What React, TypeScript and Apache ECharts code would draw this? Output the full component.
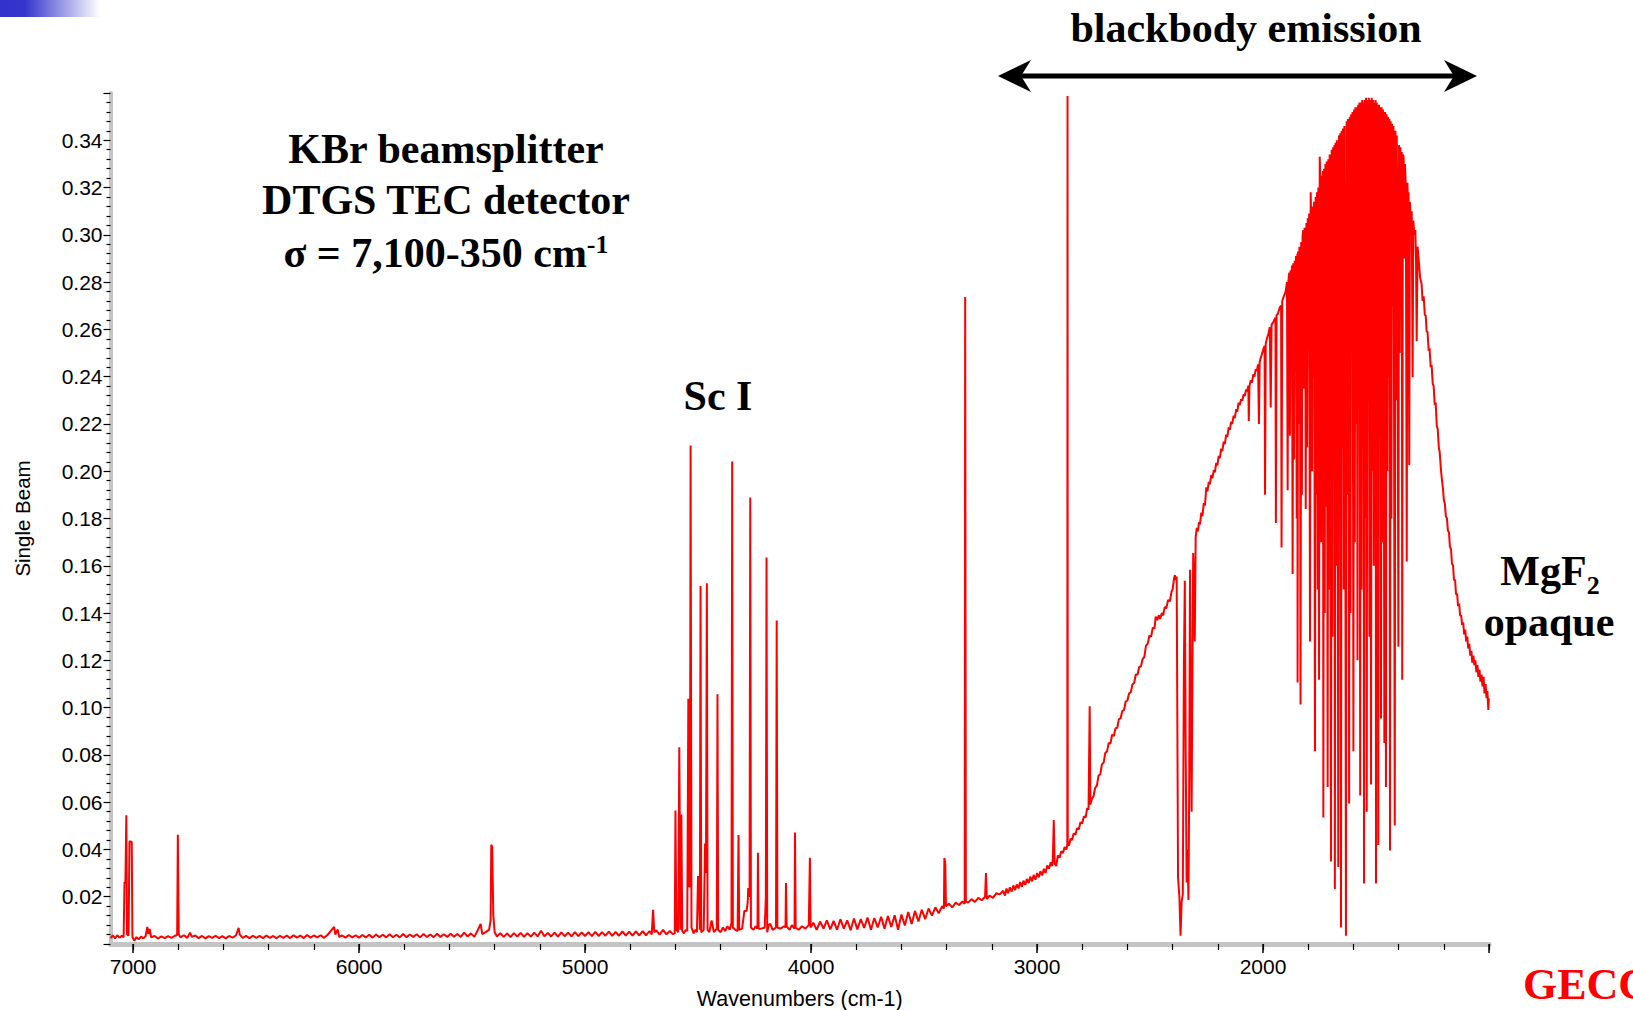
import React, { useEffect, useRef } from "react";
import * as echarts from "echarts";

// ---- axis tick labels ----
const xTickLabels = [7000, 6000, 5000, 4000, 3000, 2000];
const yTickLabels = [0.02, 0.04, 0.06, 0.08, 0.1, 0.12, 0.14, 0.16, 0.18, 0.2, 0.22, 0.24, 0.26, 0.28, 0.3, 0.32, 0.34];
const xMinorTicks = [1000, 1200, 1400, 1600, 1800, 2000, 2200, 2400, 2600, 2800, 3000, 3200, 3400, 3600, 3800, 4000, 4200, 4400, 4600, 4800, 5000, 5200, 5400, 5600, 5800, 6000, 6200, 6400, 6600, 6800, 7000];
const xMajorTicks = [1000, 2000, 3000, 4000, 5000, 6000, 7000];

// ---- spectrum: [wavenumber cm-1, single beam] ----
const baselineWest: [number, number][] = [
  [7100, 0.0025], [7090, 0.0036], [7080, 0.0024], [7070, 0.0037], [7060, 0.0027], [7050, 0.0035], [7042, 0.0028],
  [7038, 0.0262], [7034, 0.0258], [7030, 0.0545], [7027, 0.0042], [7020, 0.0035], [7016, 0.0435], [7006, 0.0432],
  [7003, 0.003], [6995, 0.0014], [6985, 0.0029], [6975, 0.002], [6965, 0.0031], [6955, 0.0024], [6945, 0.0033],
  [6937, 0.0072], [6932, 0.0042], [6927, 0.0064], [6920, 0.0028], [6905, 0.0034], [6890, 0.0023], [6875, 0.0032],
  [6860, 0.0025], [6845, 0.0033], [6830, 0.0026], [6815, 0.0035], [6805, 0.0038], [6802, 0.0462], [6798, 0.004],
  [6790, 0.0028], [6775, 0.0037], [6760, 0.0026], [6748, 0.0048], [6740, 0.003], [6725, 0.0036], [6710, 0.0025],
  [6695, 0.0034], [6680, 0.0024], [6665, 0.0033], [6650, 0.0026], [6635, 0.0035], [6620, 0.0025], [6605, 0.0033],
  [6590, 0.0024], [6575, 0.0034], [6560, 0.0027], [6545, 0.0036], [6533, 0.0068], [6528, 0.004], [6515, 0.0026],
  [6500, 0.0034], [6485, 0.0025], [6470, 0.0035], [6455, 0.0026], [6440, 0.0034], [6425, 0.0025], [6410, 0.0036],
  [6395, 0.0026], [6380, 0.0034], [6365, 0.0024], [6350, 0.0035], [6335, 0.0026], [6320, 0.0036], [6305, 0.0025],
  [6290, 0.0037], [6275, 0.0027], [6260, 0.0036], [6245, 0.0025], [6230, 0.0038], [6215, 0.0027], [6200, 0.0036],
  [6185, 0.0028], [6170, 0.0037], [6155, 0.0026], [6140, 0.0038], [6110, 0.0072], [6105, 0.004], [6095, 0.0062],
  [6088, 0.003], [6075, 0.0036], [6060, 0.0027], [6045, 0.0038], [6030, 0.0028], [6015, 0.0037], [6000, 0.0027],
];

const baselineMid: [number, number][] = [
  [5985, 0.0038], [5970, 0.0028], [5955, 0.0039], [5940, 0.0027], [5925, 0.004], [5910, 0.0029], [5895, 0.0039],
  [5880, 0.0028], [5865, 0.0041], [5850, 0.0029], [5835, 0.0039], [5820, 0.0028], [5805, 0.0042], [5790, 0.0029],
  [5775, 0.004], [5760, 0.003], [5745, 0.0041], [5730, 0.0028], [5715, 0.0042], [5700, 0.003], [5685, 0.004],
  [5670, 0.0029], [5655, 0.0043], [5640, 0.003], [5625, 0.0041], [5610, 0.003], [5595, 0.0043], [5580, 0.0031],
  [5565, 0.0042], [5550, 0.003], [5535, 0.0048], [5520, 0.0032], [5505, 0.0045], [5490, 0.003], [5475, 0.0058],
  [5462, 0.0085], [5455, 0.0042], [5440, 0.005], [5425, 0.006], [5418, 0.01], [5415, 0.042], [5411, 0.041],
  [5406, 0.012], [5400, 0.005], [5390, 0.0032], [5375, 0.0046], [5360, 0.003], [5345, 0.0045], [5330, 0.0029],
  [5315, 0.0046], [5300, 0.0031], [5285, 0.0047], [5270, 0.003], [5255, 0.0046], [5240, 0.0031], [5225, 0.0048],
  [5210, 0.0032], [5195, 0.0056], [5180, 0.0033], [5165, 0.0047], [5150, 0.0032], [5135, 0.0048], [5120, 0.0031],
  [5105, 0.0049], [5090, 0.0033], [5075, 0.0048], [5060, 0.0032], [5045, 0.005], [5030, 0.0033], [5015, 0.0049],
  [5000, 0.0034], [4985, 0.005], [4970, 0.0033], [4955, 0.0051], [4940, 0.0034], [4925, 0.005], [4910, 0.0035],
  [4895, 0.0052], [4880, 0.0034], [4865, 0.0051], [4850, 0.0035], [4835, 0.0053], [4820, 0.0036], [4805, 0.0052],
  [4790, 0.0035], [4775, 0.0053], [4760, 0.0036], [4745, 0.0054], [4730, 0.0037], [4715, 0.0055], [4705, 0.004],
  [4699, 0.0145], [4694, 0.005], [4685, 0.0058], [4670, 0.004], [4655, 0.006], [4640, 0.0041], [4625, 0.0055],
  [4612, 0.0042],
];

const scandiumLines: [number, number][] = [
  [4603, 0.0045], [4600, 0.0565], [4596, 0.006], [4588, 0.005], [4583, 0.0832], [4578, 0.006], [4574, 0.0548],
  [4570, 0.0055], [4562, 0.0045], [4555, 0.006], [4548, 0.0055], [4543, 0.1037], [4540, 0.025], [4536, 0.024],
  [4533, 0.2109], [4529, 0.007], [4520, 0.0045], [4512, 0.006], [4505, 0.005], [4500, 0.0288], [4496, 0.022],
  [4492, 0.006], [4489, 0.1514], [4486, 0.005], [4475, 0.006], [4469, 0.0425], [4465, 0.03], [4461, 0.1526],
  [4458, 0.006], [4450, 0.005], [4440, 0.01], [4430, 0.005], [4417, 0.0065], [4414, 0.1056], [4411, 0.006],
  [4400, 0.005], [4390, 0.007], [4380, 0.0055], [4370, 0.0075], [4360, 0.006], [4352, 0.009], [4349, 0.2041],
  [4346, 0.007], [4335, 0.006], [4325, 0.0055], [4321, 0.0461], [4318, 0.006], [4305, 0.0065], [4295, 0.014],
  [4285, 0.014], [4280, 0.018], [4278, 0.0237], [4272, 0.02], [4269, 0.1889], [4266, 0.007], [4255, 0.006],
  [4245, 0.0075], [4237, 0.0065], [4235, 0.0386], [4232, 0.0065], [4220, 0.0065], [4205, 0.007], [4200, 0.02],
  [4197, 0.1635], [4194, 0.005], [4187, 0.008], [4180, 0.0085], [4170, 0.006], [4155, 0.007], [4152, 0.1369],
  [4149, 0.007], [4135, 0.0065], [4120, 0.0075], [4113, 0.007], [4111, 0.0258], [4108, 0.0075], [4095, 0.006],
  [4085, 0.008], [4073, 0.0065], [4071, 0.0472], [4068, 0.007], [4055, 0.006], [4040, 0.0075], [4025, 0.0065],
  [4010, 0.008], [4005, 0.0365], [4002, 0.007],
];

const nearIr: [number, number][] = [
  [3990, 0.009], [3975, 0.006], [3960, 0.0095], [3945, 0.0065], [3930, 0.01], [3915, 0.0062], [3900, 0.0098],
  [3885, 0.006], [3870, 0.0105], [3855, 0.0065], [3840, 0.01], [3825, 0.0058], [3810, 0.0108], [3795, 0.0062],
  [3780, 0.0105], [3765, 0.0068], [3750, 0.0112], [3735, 0.006], [3720, 0.011], [3705, 0.007], [3690, 0.0115],
  [3675, 0.0065], [3660, 0.0118], [3645, 0.0072], [3630, 0.0122], [3615, 0.006], [3600, 0.0125], [3585, 0.0078],
  [3570, 0.0135], [3555, 0.0085], [3540, 0.014], [3525, 0.0095], [3510, 0.0145], [3495, 0.0105], [3480, 0.015],
  [3465, 0.012], [3450, 0.0155], [3435, 0.013], [3420, 0.016], [3412, 0.015], [3410, 0.0364], [3406, 0.034],
  [3403, 0.016], [3390, 0.017], [3375, 0.0155], [3360, 0.0175], [3345, 0.0165], [3330, 0.018], [3320, 0.017],
  [3318, 0.2737], [3315, 0.018], [3305, 0.0175], [3290, 0.019], [3275, 0.0178], [3260, 0.0195], [3245, 0.0185],
  [3230, 0.02], [3226, 0.03], [3222, 0.019], [3210, 0.0205], [3195, 0.0195], [3180, 0.0215], [3165, 0.021],
];

const risingEdge: [number, number][] = [
  [3150, 0.0225], [3142, 0.0205], [3135, 0.0235], [3128, 0.0215], [3120, 0.024], [3112, 0.0222], [3105, 0.0248],
  [3097, 0.0228], [3090, 0.0252], [3082, 0.0235], [3075, 0.0262], [3067, 0.0242], [3060, 0.0268], [3052, 0.025],
  [3045, 0.0275], [3037, 0.0258], [3030, 0.0285], [3022, 0.0265], [3015, 0.0292], [3007, 0.0272], [3000, 0.03],
  [2992, 0.0282], [2985, 0.0308], [2977, 0.029], [2970, 0.0318], [2962, 0.03], [2955, 0.0332], [2947, 0.0318],
  [2940, 0.0345], [2933, 0.033], [2930, 0.036], [2926, 0.0524], [2922, 0.034], [2915, 0.033], [2908, 0.0375],
  [2900, 0.0365], [2893, 0.0392], [2885, 0.0385], [2878, 0.041], [2870, 0.04], [2866, 0.042], [2865, 0.3587],
  [2864, 0.042], [2858, 0.0418], [2852, 0.0445], [2845, 0.044], [2838, 0.0468], [2830, 0.0462], [2823, 0.049],
  [2815, 0.0485], [2808, 0.0515], [2800, 0.051], [2793, 0.054], [2785, 0.0535], [2778, 0.0575], [2772, 0.0568],
  [2767, 0.1006], [2764, 0.059], [2757, 0.0615], [2750, 0.0625], [2743, 0.066], [2735, 0.067], [2728, 0.0712],
  [2720, 0.0718], [2713, 0.076], [2705, 0.0768], [2698, 0.0808], [2690, 0.0815], [2683, 0.085], [2675, 0.0848],
  [2668, 0.0885], [2660, 0.088], [2653, 0.0912], [2645, 0.0915], [2638, 0.095], [2630, 0.0955], [2623, 0.0985],
  [2615, 0.099], [2608, 0.1025], [2600, 0.103], [2593, 0.106], [2585, 0.1065], [2578, 0.1098], [2570, 0.1105],
  [2563, 0.114], [2555, 0.114], [2548, 0.1172], [2540, 0.1175], [2533, 0.1205], [2525, 0.1215], [2518, 0.1262],
  [2510, 0.127], [2503, 0.1305], [2495, 0.13], [2488, 0.1338], [2480, 0.1335], [2475, 0.1385], [2468, 0.137],
  [2461, 0.139], [2455, 0.1375], [2448, 0.14], [2442, 0.139], [2435, 0.1425], [2428, 0.142], [2420, 0.1455],
  [2412, 0.145], [2405, 0.149], [2400, 0.15], [2394, 0.1545], [2390, 0.156], [2386, 0.154], [2382, 0.1555],
];

const co2Band: [number, number][] = [
  [2376, 0.028], [2370, 0.02], [2365, 0.0035], [2360, 0.018], [2355, 0.021], [2350, 0.12], [2346, 0.1537],
  [2342, 0.08], [2338, 0.026], [2334, 0.04], [2330, 0.0186], [2327, 0.06], [2323, 0.1583], [2319, 0.09],
  [2316, 0.0559], [2312, 0.12], [2309, 0.1654], [2305, 0.15], [2302, 0.128], [2298, 0.172], [2293, 0.176],
  [2288, 0.1745], [2283, 0.1785], [2279, 0.1775], [2273, 0.1825], [2268, 0.181], [2262, 0.1865], [2257, 0.1855],
  [2251, 0.1932], [2246, 0.1915], [2240, 0.1955], [2235, 0.1945], [2229, 0.1985], [2224, 0.197], [2218, 0.2005],
  [2213, 0.1995], [2207, 0.2035], [2202, 0.2025], [2196, 0.2065], [2191, 0.2055], [2185, 0.2095], [2180, 0.2085],
  [2174, 0.2125], [2169, 0.2115], [2163, 0.2155], [2158, 0.2145], [2152, 0.2185], [2147, 0.2175], [2141, 0.221],
  [2136, 0.22], [2130, 0.2235], [2125, 0.2225], [2119, 0.2262], [2114, 0.2252], [2108, 0.229], [2103, 0.228],
  [2097, 0.2305], [2092, 0.2298], [2086, 0.2325], [2081, 0.2318], [2075, 0.2345], [2070, 0.2338], [2065, 0.2362],
  [2063, 0.2212], [2060, 0.236], [2054, 0.2385], [2049, 0.2375], [2043, 0.241], [2038, 0.24], [2032, 0.2432],
  [2027, 0.2425], [2022, 0.2452], [2018, 0.22], [2015, 0.246], [2010, 0.248], [2005, 0.2495], [1999, 0.2515],
  [1993, 0.253], [1991, 0.19], [1988, 0.254], [1980, 0.257], [1975, 0.2585], [1970, 0.261], [1966, 0.227],
  [1962, 0.262], [1955, 0.263], [1950, 0.264], [1945, 0.265], [1943, 0.1781], [1940, 0.266], [1935, 0.2665],
  [1930, 0.268], [1925, 0.2695], [1920, 0.27], [1918, 0.1677], [1915, 0.272], [1908, 0.274], [1900, 0.276],
  [1894, 0.28], [1891, 0.192], [1888, 0.28],
];

const waterBand: [number, number][] = [
  [1884, 0.284], [1881, 0.215], [1878, 0.285], [1875, 0.24], [1872, 0.287], [1869, 0.1565], [1866, 0.288],
  [1863, 0.205], [1860, 0.289], [1857, 0.25], [1854, 0.291], [1851, 0.18], [1848, 0.292], [1847, 0.1106],
  [1845, 0.293], [1842, 0.22], [1839, 0.295], [1836, 0.26], [1834, 0.1013], [1831, 0.297], [1828, 0.19],
  [1825, 0.299], [1822, 0.302], [1819, 0.235], [1816, 0.303], [1813, 0.27], [1811, 0.184], [1808, 0.305],
  [1805, 0.21], [1802, 0.307], [1799, 0.255], [1796, 0.309], [1792, 0.128], [1789, 0.318], [1786, 0.3],
  [1783, 0.2], [1780, 0.312], [1777, 0.24], [1774, 0.314], [1770, 0.0815], [1767, 0.316], [1764, 0.19],
  [1761, 0.318], [1758, 0.15], [1755, 0.32], [1752, 0.1118], [1749, 0.333], [1746, 0.322], [1743, 0.17],
  [1740, 0.325], [1737, 0.21], [1735, 0.327], [1733, 0.0535], [1730, 0.328], [1727, 0.14], [1724, 0.33],
  [1721, 0.185], [1718, 0.331], [1714, 0.0664], [1711, 0.332], [1708, 0.15], [1705, 0.334], [1702, 0.23],
  [1699, 0.0349], [1696, 0.336], [1693, 0.13], [1690, 0.337], [1687, 0.2], [1684, 0.338], [1682, 0.0233],
  [1679, 0.339], [1676, 0.16], [1673, 0.34], [1670, 0.25], [1667, 0.0326], [1664, 0.342], [1661, 0.18],
  [1658, 0.343], [1655, 0.007], [1652, 0.344], [1649, 0.21], [1646, 0.345], [1643, 0.15], [1640, 0.346],
  [1637, 0.26], [1633, 0.0035], [1630, 0.348], [1627, 0.19], [1624, 0.349], [1621, 0.23], [1619, 0.0594],
  [1616, 0.35], [1613, 0.14], [1610, 0.351], [1607, 0.28], [1604, 0.352], [1600, 0.0815], [1597, 0.353],
  [1594, 0.17], [1591, 0.354], [1588, 0.22], [1585, 0.354], [1582, 0.12], [1579, 0.355], [1576, 0.26],
  [1573, 0.356], [1570, 0.0628], [1567, 0.356], [1564, 0.15], [1561, 0.357], [1558, 0.21], [1555, 0.356],
  [1553, 0.0256], [1550, 0.357], [1547, 0.18], [1544, 0.358], [1541, 0.0559], [1538, 0.357], [1535, 0.24],
  [1532, 0.358], [1529, 0.13], [1526, 0.357], [1522, 0.0675], [1519, 0.358], [1516, 0.2], [1513, 0.357],
  [1510, 0.16], [1507, 0.356], [1504, 0.25], [1502, 0.357], [1500, 0.0256], [1497, 0.356], [1494, 0.19],
  [1492, 0.355], [1490, 0.0419], [1487, 0.355], [1484, 0.23], [1481, 0.354], [1478, 0.0954], [1475, 0.354],
  [1472, 0.17], [1469, 0.353], [1466, 0.26], [1463, 0.085], [1460, 0.352], [1456, 0.0664], [1453, 0.351],
  [1450, 0.2], [1447, 0.35], [1444, 0.24], [1441, 0.349], [1438, 0.0396], [1435, 0.348], [1432, 0.18],
  [1429, 0.347], [1426, 0.27], [1423, 0.346], [1420, 0.22], [1417, 0.0501], [1414, 0.344], [1411, 0.23],
  [1408, 0.342], [1405, 0.29], [1401, 0.1258], [1398, 0.338], [1395, 0.25], [1392, 0.337], [1389, 0.3],
  [1386, 0.335], [1384, 0.1118], [1381, 0.334], [1378, 0.333], [1375, 0.29], [1372, 0.33], [1368, 0.32],
  [1364, 0.1618], [1361, 0.322], [1358, 0.31], [1356, 0.318], [1353, 0.2026], [1350, 0.314], [1346, 0.305],
  [1342, 0.31], [1338, 0.2398], [1335, 0.306], [1330, 0.3], [1326, 0.302], [1323, 0.29], [1320, 0.255],
  [1316, 0.295], [1310, 0.288], [1305, 0.282],
];

const mgf2Cutoff: [number, number][] = [
  [1298, 0.279], [1294, 0.272], [1289, 0.274], [1284, 0.266], [1280, 0.266], [1276, 0.259], [1272, 0.259],
  [1267, 0.251], [1263, 0.252], [1258, 0.244], [1254, 0.245], [1249, 0.237], [1245, 0.236], [1240, 0.228],
  [1236, 0.229], [1231, 0.219], [1227, 0.218], [1222, 0.21], [1218, 0.208], [1213, 0.201], [1209, 0.197],
  [1204, 0.193], [1200, 0.188], [1195, 0.186], [1191, 0.181], [1186, 0.18], [1182, 0.175], [1177, 0.174],
  [1173, 0.168], [1168, 0.167], [1164, 0.161], [1159, 0.16], [1155, 0.154], [1150, 0.154], [1146, 0.148],
  [1141, 0.148], [1137, 0.143], [1132, 0.144], [1128, 0.139], [1123, 0.139], [1119, 0.135], [1114, 0.136],
  [1110, 0.131], [1105, 0.133], [1101, 0.128], [1096, 0.13], [1092, 0.125], [1087, 0.127], [1083, 0.122],
  [1078, 0.124], [1074, 0.119], [1069, 0.122], [1065, 0.118], [1060, 0.12], [1056, 0.115], [1051, 0.118],
  [1047, 0.113], [1042, 0.116], [1038, 0.111], [1033, 0.114], [1029, 0.109], [1024, 0.113], [1020, 0.106],
  [1015, 0.11], [1011, 0.104], [1007, 0.107], [1003, 0.099], [1001, 0.104],
];

const spectrum = [
  ...baselineWest, ...baselineMid, ...scandiumLines, ...nearIr,
  ...risingEdge, ...co2Band, ...waterBand, ...mgf2Cutoff,
];

// ---- annotation texts ----
const setupLines = ["KBr beamsplitter", "DTGS TEC detector"];
const rangeText = "σ = 7,100-350 cm";
const rangeSup = "-1";
const scText = "Sc I";
const bbText = "blackbody emission";
const mgText = "MgF";
const mgSub = "2";
const opaqueText = "opaque";
const logoText = "GECCO";

const SERIF = '"Liberation Serif", "Times New Roman", serif';
const SANS = '"Liberation Sans", Arial, sans-serif';

function serifText(text: string, x: number, y: number, size = 42, align = "center", color = "#000") {
  return {
    type: "text",
    x,
    y,
    silent: true,
    style: {
      text,
      fill: color,
      fontFamily: SERIF,
      fontWeight: "bold",
      fontSize: size,
      textAlign: align,
      textVerticalAlign: "middle",
      align,
      verticalAlign: "middle",
    },
  };
}

function richText(main: string, small: string, x: number, y: number, smallStyle: any) {
  return {
    type: "text",
    x,
    y,
    silent: true,
    style: {
      text: "{a|" + main + "}{b|" + small + "}",
      textAlign: "center",
      textVerticalAlign: "middle",
      align: "center",
      verticalAlign: "middle",
      rich: {
        a: { fontFamily: SERIF, fontWeight: "bold", fontSize: 42, fill: "#000", color: "#000", lineHeight: 44 },
        b: Object.assign(
          { fontFamily: SERIF, fontWeight: "bold", fontSize: 26, fill: "#000", color: "#000" },
          smallStyle
        ),
      },
    },
  };
}

export default function App() {
  const ref = useRef<HTMLDivElement>(null);
  useEffect(() => {
    if (!ref.current) return;
    const chart = echarts.init(ref.current, undefined, { renderer: "svg" });
    const near = (a: number, b: number) => Math.abs(a - b) < 1e-6;
    const option: any = {
      animation: false,
      backgroundColor: "#ffffff",
      grid: { left: 110.5, right: 144, top: 93, bottom: 66, containLabel: false, outerBoundsMode: "none" },
      xAxis: [
        {
          type: "value",
          min: 1000,
          max: 7100,
          inverse: true,
          interval: 200,
          position: "bottom",
          axisLine: { show: true, onZero: false, lineStyle: { color: "#c4c4c4", width: 5 } },
          axisTick: { show: true, length: 6, customValues: xMinorTicks, lineStyle: { color: "#000", width: 1.2 } },
          axisLabel: { show: false },
          splitLine: { show: false },
        },
        {
          type: "value",
          min: 1000,
          max: 7100,
          inverse: true,
          interval: 1000,
          position: "bottom",
          axisLine: { show: false, onZero: false },
          axisTick: { show: true, length: 9, customValues: xMajorTicks, lineStyle: { color: "#000", width: 1.5 } },
          axisLabel: {
            show: true,
            customValues: xTickLabels,
            formatter: (v: number) => (xTickLabels.some((t) => near(t, v)) ? String(v) : ""),
            color: "#000",
            fontFamily: SANS,
            fontSize: 21,
            margin: 12,
          },
          splitLine: { show: false },
          name: "Wavenumbers (cm-1)",
          nameLocation: "middle",
          nameGap: 44,
          nameTextStyle: { color: "#000", fontFamily: SANS, fontSize: 21.5 },
        },
      ],
      yAxis: {
        type: "value",
        min: 0,
        max: 0.36,
        interval: 0.02,
        axisLine: { show: true, onZero: false, lineStyle: { color: "#c4c4c4", width: 4 } },
        axisTick: { show: true, length: 7, lineStyle: { color: "#000", width: 1.2 } },
        minorTick: { show: true, splitNumber: 5, length: 4, lineStyle: { color: "#000", width: 1.2 } },
        axisLabel: {
          show: true,
          formatter: (v: number) => (yTickLabels.some((t) => near(t, v)) ? v.toFixed(2) : ""),
          color: "#000",
          fontFamily: SANS,
          fontSize: 21,
          margin: 8,
        },
        splitLine: { show: false },
        minorSplitLine: { show: false },
        name: "Single Beam",
        nameLocation: "middle",
        nameGap: 78,
        nameTextStyle: { color: "#000", fontFamily: SANS, fontSize: 20.5 },
      },
      series: [
        {
          type: "line",
          xAxisIndex: 0,
          yAxisIndex: 0,
          data: spectrum,
          showSymbol: false,
          symbol: "none",
          sampling: "none",
          lineStyle: { color: "#ff0000", width: 2 },
          silent: true,
        },
      ],
      graphic: {
        elements: [
          {
            type: "rect",
            shape: { x: 0, y: 0, width: 100, height: 17 },
            silent: true,
            style: {
              fill: new echarts.graphic.LinearGradient(0, 0, 1, 0, [
                { offset: 0, color: "#3333cc" },
                { offset: 0.25, color: "#3535cc" },
                { offset: 1, color: "#ffffff" },
              ]),
            },
          },
          serifText(setupLines[0], 446, 149),
          serifText(setupLines[1], 446, 200),
          richText(rangeText, rangeSup, 446, 253, { lineHeight: 20, verticalAlign: "top" }),
          serifText(scText, 718, 396),
          serifText(bbText, 1246, 28),
          {
            type: "line",
            silent: true,
            shape: { x1: 1015, y1: 76, x2: 1460, y2: 76 },
            style: { stroke: "#000", lineWidth: 5 },
          },
          {
            type: "polygon",
            silent: true,
            shape: { points: [[998, 76], [1031, 60], [1021, 76], [1031, 92]] },
            style: { fill: "#000" },
          },
          {
            type: "polygon",
            silent: true,
            shape: { points: [[1477, 76], [1444, 60], [1454, 76], [1444, 92]] },
            style: { fill: "#000" },
          },
          richText(mgText, mgSub, 1550, 571, { lineHeight: 20, padding: [28, 0, 0, 0] }),
          serifText(opaqueText, 1549, 622),
          serifText(logoText, 1523, 984, 44, "left", "#ff0000"),
        ],
      },
    };
    chart.setOption(option);
    return () => chart.dispose();
  }, []);
  return (
    <div
      ref={ref}
      style={{ position: "fixed", left: 0, top: 0, width: 1633, height: 1010, background: "#fff" }}
    />
  );
}
